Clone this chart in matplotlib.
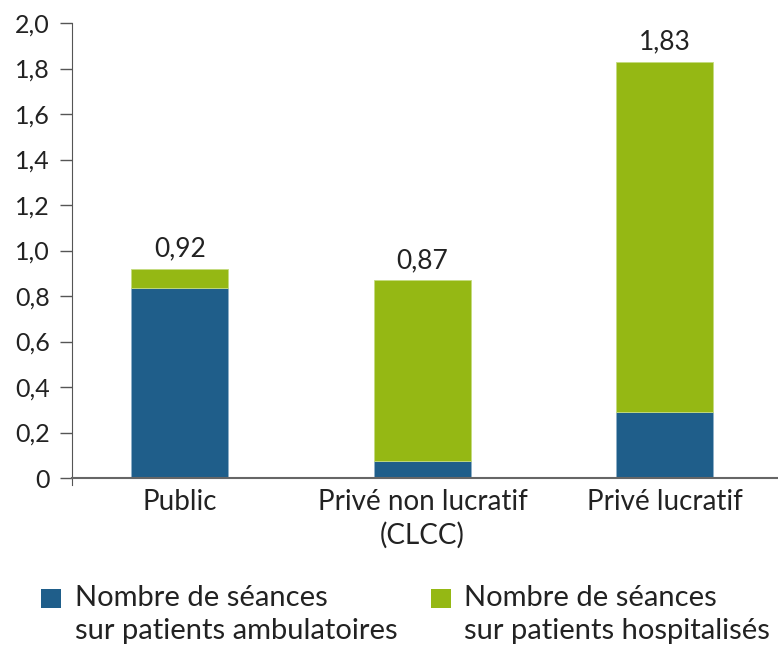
import matplotlib
matplotlib.use("Agg")
import matplotlib.pyplot as plt
from matplotlib.patches import Rectangle

categories = ["Public", "Privé non lucratif\n(CLCC)", "Privé lucratif"]
ambulatoires = [0.835, 0.075, 0.29]
totaux = [0.92, 0.87, 1.83]
hospitalises = [t - a for t, a in zip(totaux, ambulatoires)]
total_labels = ["0,92", "0,87", "1,83"]
yticks = [0, 0.2, 0.4, 0.6, 0.8, 1.0, 1.2, 1.4, 1.6, 1.8, 2.0]
ytick_labels = ["0", "0,2", "0,4", "0,6", "0,8", "1,0", "1,2", "1,4", "1,6", "1,8", "2,0"]
legend_labels = ["Nombre de séances\nsur patients ambulatoires",
                 "Nombre de séances\nsur patients hospitalisés"]

BLUE = "#1f5e8a"
GREEN = "#95b814"

plt.rcParams['font.family'] = ['Lato', 'DejaVu Sans']

fig = plt.figure(figsize=(7.78, 6.52), dpi=100)
ax = fig.add_axes([72/778, 1 - 478/652, 1 - 72/778, (478 - 23)/652])

x = list(range(len(categories)))
ax.bar(x, ambulatoires, width=0.4, color=BLUE, edgecolor="#8fb0c8", linewidth=0.6)
ax.bar(x, hospitalises, bottom=ambulatoires, width=0.4, color=GREEN,
       edgecolor="#c5dc80", linewidth=0.6)

for xi, t, lab in zip(x, totaux, total_labels):
    ax.annotate(lab, (xi, t), xytext=(0, 5), textcoords="offset points",
                ha="center", va="bottom", fontsize=19, color="#222222")

ax.set_xlim(-0.445, 2.466)
ax.set_ylim(0, 2.0)
ax.set_yticks(yticks)
ax.set_yticklabels(ytick_labels, fontsize=18, color="#222222")
ax.set_xticks(x)
ax.set_xticklabels(categories, fontsize=20, color="#222222", linespacing=1.3)
ax.tick_params(axis="x", length=0, pad=8)
ax.tick_params(axis="y", length=9, width=1, color="#555555", pad=7)

for s in ["top", "right"]:
    ax.spines[s].set_visible(False)
ax.spines["left"].set_color("#555555")
ax.spines["bottom"].set_color("#666666")
ax.spines["bottom"].set_linewidth(1.5)
ax.spines["left"].set_bounds(-0.03, 2.0)

# legend
for (px, tx), col, lab in zip([(41, 75), (431, 464)], [BLUE, GREEN], legend_labels):
    fig.patches.append(Rectangle((px/778, 1 - 608/652), 20/778, 19/652,
                                 transform=fig.transFigure, facecolor=col,
                                 edgecolor="none"))
    fig.text(tx/778, 1 - 585/652, lab, fontsize=21, va="top", ha="left",
             color="#222222", linespacing=1.32)

fig.savefig("out.png", dpi=100)
